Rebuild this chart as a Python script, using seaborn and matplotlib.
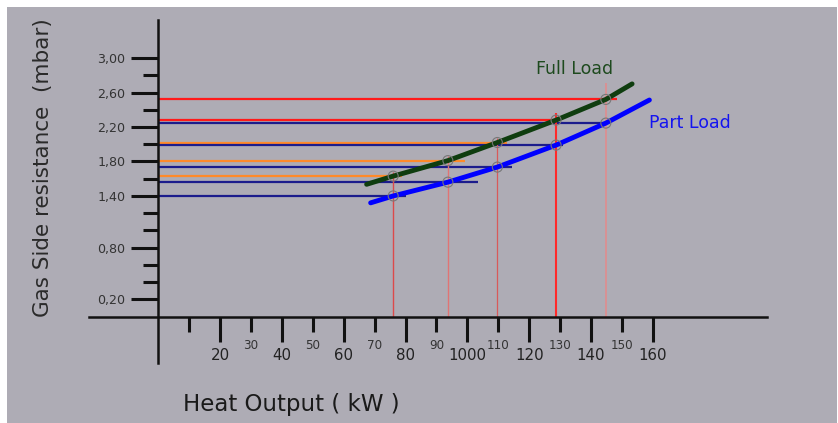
import matplotlib
matplotlib.use("Agg")
import matplotlib.pyplot as plt
import seaborn as sns

# ---------------- data ----------------
heat_output_kw = [76.0, 93.7, 109.7, 128.7, 144.8]
full_load_mbar = [1.63, 1.81, 2.02, 2.28, 2.52]
part_load_mbar = [1.40, 1.56, 1.735, 1.99, 2.245]

full_curve_kw = [67.4, 76.0, 93.7, 109.7, 128.7, 144.8, 153.3]
full_curve_mbar = [1.535, 1.63, 1.81, 2.02, 2.28, 2.52, 2.70]
part_curve_kw = [68.7, 76.0, 93.7, 109.7, 128.7, 144.8, 158.9]
part_curve_mbar = [1.32, 1.40, 1.56, 1.735, 1.99, 2.245, 2.513]

full_guide_end_kw = [78.8, 99.3, 112.8, 128.9, 148.5]
part_guide_end_kw = [80.1, 103.4, 114.4, 130.9, 145.1]
vertical_guide_top_mbar = [1.68, 1.86, 2.07, 2.36, 2.71]

x_major_ticks = [20, 40, 60, 80, 100, 120, 140, 160]
x_major_labels = ["20", "40", "60", "80", "1000", "120", "140", "160"]
x_minor_ticks = [10, 30, 50, 70, 90, 110, 130, 150]
x_minor_labels = ["", "30", "50", "70", "90", "110", "130", "150"]
y_major_ticks = [3.0, 2.6, 2.2, 1.8, 1.4, 0.8, 0.2]
y_major_labels = ["3,00", "2,60", "2,20", "1,80", "1,40", "0,80", "0,20"]
y_minor_ticks = [2.8, 2.4, 2.0, 1.6, 1.2, 1.0, 0.6, 0.4]

# ---------------- styles ----------------
bg = "#aeacb5"
full_guide_colors = ["#ff8a2a", "#ff8a2a", "#ff8a2a", "#ff1a1a", "#ff1a1a"]
part_guide_color = "#1c1c8c"
vertical_guide_colors = ["#dc4a4a", "#e07474", "#d85a5a", "#ff2a2a", "#e48a8a"]
vertical_guide_widths = [1.0, 1.0, 0.9, 1.5, 1.1]

sns.set_theme(style="white")
plt.rcParams["font.family"] = ["DejaVu Sans"]

fig = plt.figure(figsize=(8.38, 4.23), dpi=100, facecolor="white")
ax = fig.add_axes([7 / 838, 0, 830 / 838, 416 / 423])
ax.set_facecolor(bg)

# guide lines
ax.hlines(full_load_mbar, 0, full_guide_end_kw, colors=full_guide_colors,
          lw=1.6, zorder=2)
ax.hlines(part_load_mbar, 0, part_guide_end_kw, colors=part_guide_color,
          lw=1.6, zorder=2)
ax.vlines(heat_output_kw, 0, vertical_guide_top_mbar,
          colors=vertical_guide_colors, lw=vertical_guide_widths, zorder=2)

# curves
sns.lineplot(x=full_curve_kw, y=full_curve_mbar, sort=False, estimator=None,
             color="#0f3d0f", lw=3.5, ax=ax, zorder=3)
sns.lineplot(x=part_curve_kw, y=part_curve_mbar, sort=False, estimator=None,
             color="#0000ff", lw=3.5, ax=ax, zorder=3)

# operating point circles
sns.scatterplot(x=heat_output_kw + heat_output_kw,
                y=full_load_mbar + part_load_mbar,
                marker="o", s=52, facecolor="none", edgecolor="#777777",
                linewidth=0.8, ax=ax, zorder=4)

ax.text(134.7, 2.872, "Full Load", color="#1e4a1e", fontsize=12.5,
        ha="center", va="center")
ax.text(171.9, 2.246, "Part Load", color="#1414f0", fontsize=12.5,
        ha="center", va="center")

# axes geometry
ax.set_xlim(-48.96, 219.6)
ax.set_ylim(-1.234, 3.592)
for s in ("top", "right"):
    ax.spines[s].set_visible(False)
ax.spines["left"].set_position(("data", 0))
ax.spines["bottom"].set_position(("data", 0))
ax.spines["left"].set_bounds(-0.535, 3.44)
ax.spines["bottom"].set_bounds(-22.3, 196.9)
for s in ("left", "bottom"):
    ax.spines[s].set_linewidth(1.8)
    ax.spines[s].set_color("#111111")
    ax.spines[s].set_zorder(5)

ax.set_xticks(x_major_ticks, labels=x_major_labels)
ax.set_xticks(x_minor_ticks, labels=x_minor_labels, minor=True)
ax.set_yticks(y_major_ticks, labels=y_major_labels)
ax.set_yticks(y_minor_ticks, minor=True)

ax.tick_params(axis="x", which="major", direction="out", length=18, width=2.2,
               color="#111111", pad=4.6, labelsize=10.8, labelcolor="#222222",
               bottom=True)
ax.tick_params(axis="x", which="minor", direction="out", length=11, width=2.2,
               color="#111111", pad=5.3, labelsize=8.6, labelcolor="#333333",
               bottom=True)
ax.tick_params(axis="y", which="major", direction="out", length=19.4, width=2.2,
               color="#111111", pad=4.3, labelsize=9.1, labelcolor="#333333",
               left=True)
ax.tick_params(axis="y", which="minor", direction="out", length=10.8, width=2.2,
               color="#111111", left=True)

ax.set_xlabel("Heat Output ( kW )", fontsize=16.5, color="#1a1a1a",
              ha="center", va="center")
ax.xaxis.set_label_coords(0.342, 0.044)
ax.set_ylabel("Gas Side resistance  (mbar)", fontsize=15.5, color="#2a2a2a",
              rotation=90, ha="center", va="center", rotation_mode="default")
ax.yaxis.set_label_coords(0.043, 0.615)

fig.savefig("out.png", dpi=100, facecolor="white")
